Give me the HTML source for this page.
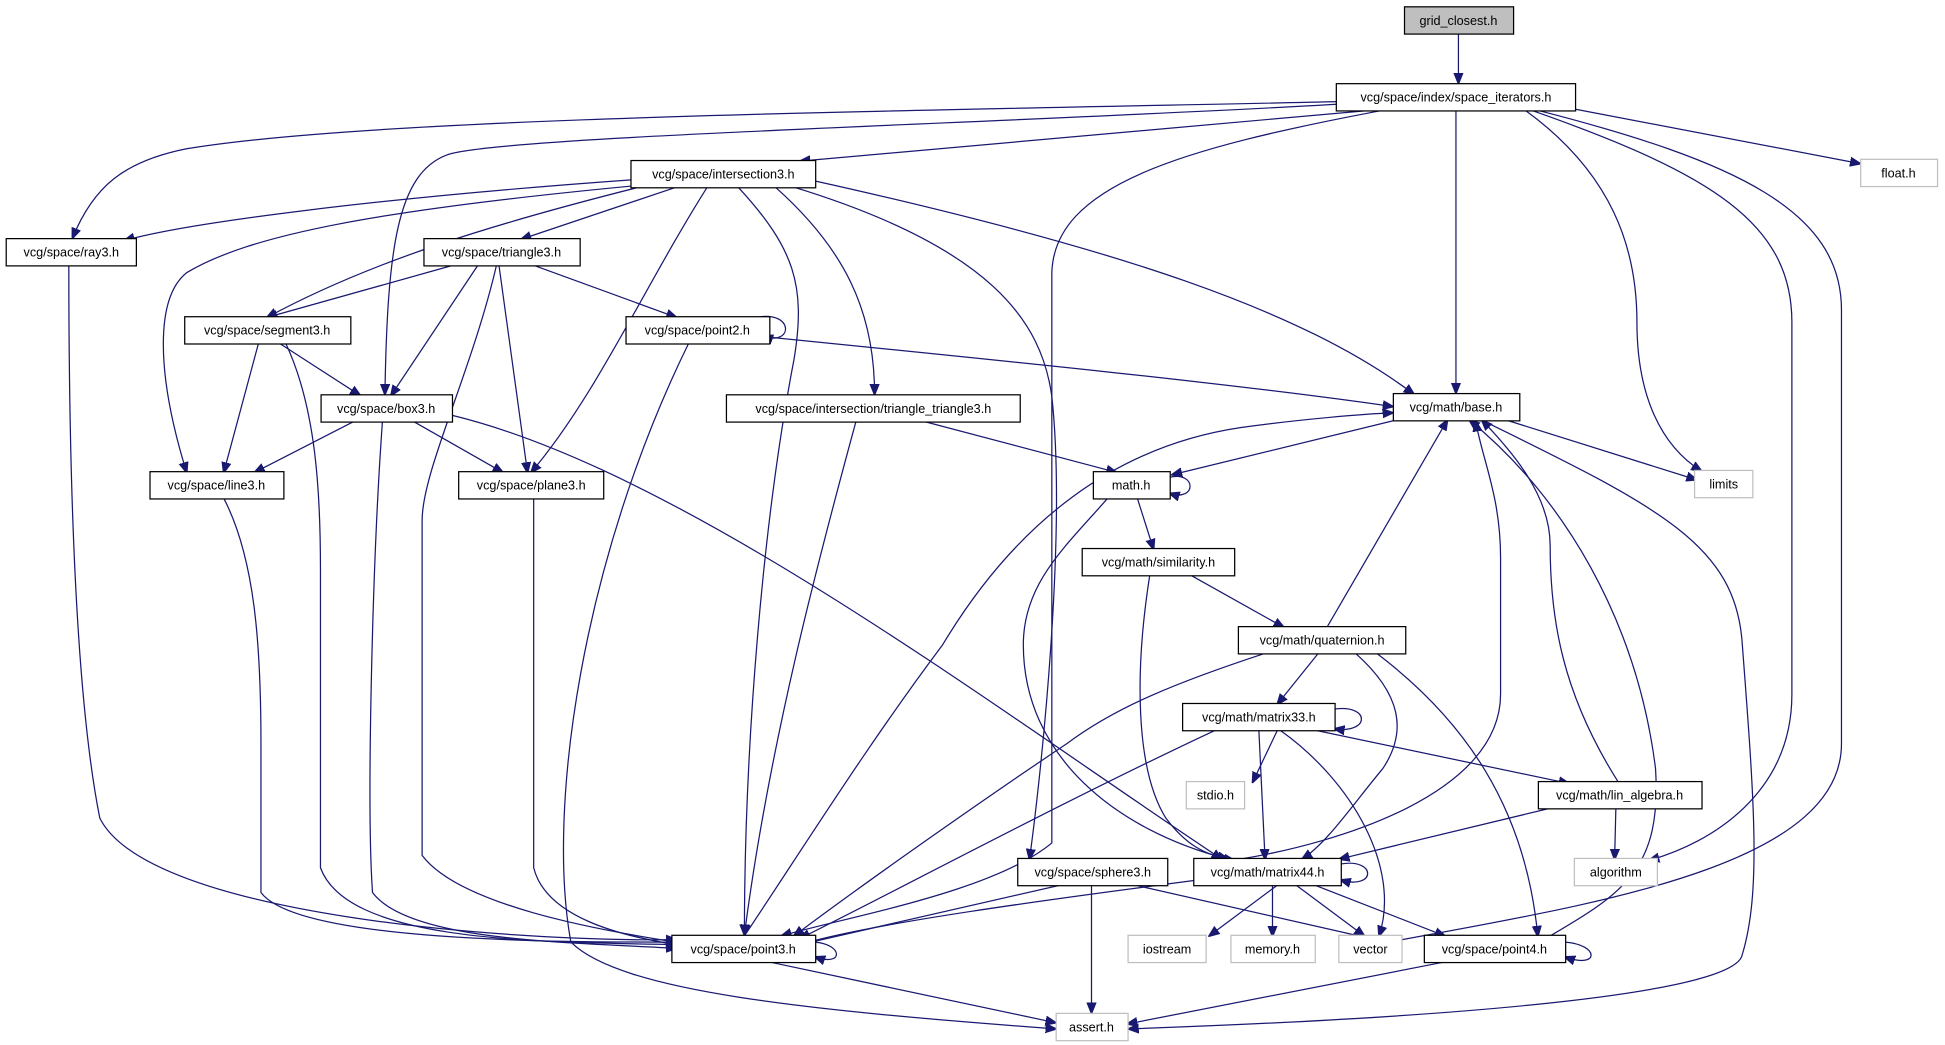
<!DOCTYPE html>
<html><head><meta charset="utf-8"><style>
html,body{margin:0;padding:0;background:#fff;width:1945px;height:1045px;overflow:hidden}
svg{display:block}
text{font-family:"Liberation Sans","DejaVu Sans",sans-serif;font-size:10.2px;fill:#000;text-anchor:middle}
.n rect{fill:#fff;stroke:#000;stroke-width:1}
.g rect{fill:#fff;stroke:#bfbfbf;stroke-width:1}
.e path{fill:none;stroke:#191970;stroke-width:1}
</style></head><body>
<svg width="1945" height="1045" viewBox="0 0 1568 843" xmlns="http://www.w3.org/2000/svg">
<defs><marker id="a" viewBox="0 0 10 10" refX="9" refY="5" markerWidth="9" markerHeight="9" markerUnits="userSpaceOnUse" orient="auto"><path d="M0,1 L10,5 L0,9 z" fill="#191970" stroke="#191970"/></marker></defs>
<g class="e" marker-end="url(#a)">
<path d="M1176,27 L1176,67" marker-end="url(#a)"/>
<path d="M1080,82 C700,90 300,95 150,120 C100,130 75,150 58,192" marker-end="url(#a)"/>
<path d="M1080,84 C800,100 400,110 360,125 C320,140 312,200 310,318" marker-end="url(#a)"/>
<path d="M1105,89 L645,130" marker-end="url(#a)"/>
<path d="M1115,89 C950,120 850,150 848,220 L848,680 C800,720 680,740 630,755" marker-end="url(#a)"/>
<path d="M1174,89 L1174,317" marker-end="url(#a)"/>
<path d="M1230,89 C1300,140 1320,200 1320,260 C1320,320 1340,360 1372,380" marker-end="url(#a)"/>
<path d="M1235,89 C1380,140 1445,180 1445,260 L1445,560 C1445,640 1380,680 1330,694" marker-end="url(#a)"/>
<path d="M1240,89 C1400,130 1485,170 1485,250 L1485,600 C1485,700 1280,730 1120,760" marker-end="url(#a)"/>
<path d="M1270,88 L1500,132" marker-end="url(#a)"/>
<path d="M510,145 C300,160 150,180 100,194" marker-end="url(#a)"/>
<path d="M545,151 L420,193" marker-end="url(#a)"/>
<path d="M515,151 C400,180 300,210 215,256" marker-end="url(#a)"/>
<path d="M510,150 C300,170 200,190 150,220 C125,240 125,300 150,381" marker-end="url(#a)"/>
<path d="M570,151 C520,230 480,320 428,381" marker-end="url(#a)"/>
<path d="M595,151 C640,200 650,230 640,290 C615,420 600,600 600,754" marker-end="url(#a)"/>
<path d="M625,151 C680,200 705,250 705,318" marker-end="url(#a)"/>
<path d="M640,151 C800,200 840,260 848,320 C860,430 840,620 830,693" marker-end="url(#a)"/>
<path d="M657,146 C900,200 1050,250 1140,318" marker-end="url(#a)"/>
<path d="M365,214 L215,256" marker-end="url(#a)"/>
<path d="M385,214 L315,319" marker-end="url(#a)"/>
<path d="M402,214 L425,381" marker-end="url(#a)"/>
<path d="M400,214 C380,300 340,380 340,420 L340,690 C370,730 480,750 545,760" marker-end="url(#a)"/>
<path d="M430,214 L545,256" marker-end="url(#a)"/>
<path d="M208,277 L180,381" marker-end="url(#a)"/>
<path d="M225,277 L290,319" marker-end="url(#a)"/>
<path d="M230,277 C255,330 258,400 258,460 L258,700 C280,760 430,760 545,762" marker-end="url(#a)"/>
<path d="M610,256 C640,250 640,280 615,271" marker-end="url(#a)"/>
<path d="M600,270 C800,290 1000,310 1123,328" marker-end="url(#a)"/>
<path d="M555,277 C470,450 440,650 460,760 C500,800 650,815 851,830" marker-end="url(#a)"/>
<path d="M285,340 L205,381" marker-end="url(#a)"/>
<path d="M333,340 L405,381" marker-end="url(#a)"/>
<path d="M308,340 C300,450 295,650 300,720 C330,760 460,760 545,765" marker-end="url(#a)"/>
<path d="M364,335 C550,380 800,570 985,693" marker-end="url(#a)"/>
<path d="M745,340 L900,381" marker-end="url(#a)"/>
<path d="M690,340 C660,450 620,600 600,754" marker-end="url(#a)"/>
<path d="M1125,339 L945,383" marker-end="url(#a)"/>
<path d="M1215,339 L1368,387" marker-end="url(#a)"/>
<path d="M1195,339 C1340,410 1400,440 1405,520 C1415,650 1420,720 1405,770 C1400,800 1200,820 910,830" marker-end="url(#a)"/>
<path d="M180,402 C205,450 210,520 210,600 L210,720 C240,760 450,760 545,760" marker-end="url(#a)"/>
<path d="M430,402 L430,700 C440,740 500,755 545,762" marker-end="url(#a)"/>
<path d="M55,214 C55,380 60,560 80,660 C120,740 420,760 545,758" marker-end="url(#a)"/>
<path d="M943,385 C965,380 965,405 943,398" marker-end="url(#a)"/>
<path d="M917,402 L930,443" marker-end="url(#a)"/>
<path d="M893,402 C860,440 825,470 825,520 C825,610 900,670 990,693" marker-end="url(#a)"/>
<path d="M960,464 L1035,506" marker-end="url(#a)"/>
<path d="M927,464 C915,540 915,620 940,660 C955,680 970,690 995,694" marker-end="url(#a)"/>
<path d="M1070,506 L1167,339" marker-end="url(#a)"/>
<path d="M1063,527 L1030,568" marker-end="url(#a)"/>
<path d="M1093,527 C1130,560 1135,590 1115,620 C1090,650 1070,680 1050,693" marker-end="url(#a)"/>
<path d="M1110,527 C1180,580 1230,650 1240,755" marker-end="url(#a)"/>
<path d="M1020,527 C950,550 900,570 860,600 C800,640 700,710 640,755" marker-end="url(#a)"/>
<path d="M1076,572 C1105,568 1105,592 1076,588" marker-end="url(#a)"/>
<path d="M1030,589 L1010,631" marker-end="url(#a)"/>
<path d="M1015,589 L1020,693" marker-end="url(#a)"/>
<path d="M1032,589 C1090,630 1130,700 1112,755" marker-end="url(#a)"/>
<path d="M1060,589 L1265,632" marker-end="url(#a)"/>
<path d="M980,589 C850,650 720,720 645,757" marker-end="url(#a)"/>
<path d="M1305,631 C1260,560 1250,500 1250,440 C1250,400 1220,365 1195,339" marker-end="url(#a)"/>
<path d="M1250,652 L1080,693" marker-end="url(#a)"/>
<path d="M1303,652 L1302,693" marker-end="url(#a)"/>
<path d="M855,714 L645,762" marker-end="url(#a)"/>
<path d="M915,714 L1100,756" marker-end="url(#a)"/>
<path d="M880,714 L880,817" marker-end="url(#a)"/>
<path d="M1081,697 C1110,692 1110,718 1081,710" marker-end="url(#a)"/>
<path d="M1000,693 C1080,680 1210,640 1210,560 L1210,450 C1210,400 1195,370 1190,340" marker-end="url(#a)"/>
<path d="M965,710 C850,725 700,745 645,762" marker-end="url(#a)"/>
<path d="M1030,714 L975,755" marker-end="url(#a)"/>
<path d="M1026,714 L1026,755" marker-end="url(#a)"/>
<path d="M1045,714 L1100,755" marker-end="url(#a)"/>
<path d="M1060,714 L1165,755" marker-end="url(#a)"/>
<path d="M657,760 C680,762 680,780 657,772" marker-end="url(#a)"/>
<path d="M600,755 C650,680 700,600 760,520 C820,420 900,360 1000,345 C1050,338 1100,334 1123,333" marker-end="url(#a)"/>
<path d="M620,776 L851,825" marker-end="url(#a)"/>
<path d="M1262,760 C1290,762 1290,782 1262,772" marker-end="url(#a)"/>
<path d="M1250,755 C1310,720 1340,700 1335,620 C1320,500 1260,400 1185,339" marker-end="url(#a)"/>
<path d="M1165,776 L909,826" marker-end="url(#a)"/>
</g>
<g class="n"><rect x="1132.5" y="5.5" width="88" height="22" style="fill:#bfbfbf"/><text x="1176" y="20">grid_closest.h</text></g>
<g class="n"><rect x="1077.5" y="67.5" width="193" height="22"/><text x="1174" y="82">vcg/space/index/space_iterators.h</text></g>
<g class="g"><rect x="1500.5" y="128.5" width="62" height="22"/><text x="1531" y="143">float.h</text></g>
<g class="n"><rect x="508.5" y="129.5" width="149" height="22"/><text x="583" y="144">vcg/space/intersection3.h</text></g>
<g class="n"><rect x="4.5" y="192.5" width="105" height="22"/><text x="57" y="207">vcg/space/ray3.h</text></g>
<g class="n"><rect x="341.5" y="192.5" width="126" height="22"/><text x="404" y="207">vcg/space/triangle3.h</text></g>
<g class="n"><rect x="148.5" y="255.5" width="134" height="22"/><text x="215" y="270">vcg/space/segment3.h</text></g>
<g class="n"><rect x="504.5" y="255.5" width="116" height="22"/><text x="562" y="270">vcg/space/point2.h</text></g>
<g class="n"><rect x="258.5" y="318.5" width="106" height="22"/><text x="311" y="333">vcg/space/box3.h</text></g>
<g class="n"><rect x="585.5" y="318.5" width="237" height="22"/><text x="704" y="333">vcg/space/intersection/triangle_triangle3.h</text></g>
<g class="n"><rect x="1123.5" y="317.5" width="102" height="22"/><text x="1174" y="332">vcg/math/base.h</text></g>
<g class="n"><rect x="120.5" y="380.5" width="108" height="22"/><text x="174" y="395">vcg/space/line3.h</text></g>
<g class="n"><rect x="369.5" y="380.5" width="117" height="22"/><text x="428" y="395">vcg/space/plane3.h</text></g>
<g class="n"><rect x="881.5" y="380.5" width="62" height="22"/><text x="912" y="395">math.h</text></g>
<g class="g"><rect x="1366.5" y="379.5" width="47" height="22"/><text x="1390" y="394">limits</text></g>
<g class="n"><rect x="872.5" y="442.5" width="123" height="22"/><text x="934" y="457">vcg/math/similarity.h</text></g>
<g class="n"><rect x="998.5" y="505.5" width="135" height="22"/><text x="1066" y="520">vcg/math/quaternion.h</text></g>
<g class="n"><rect x="953.5" y="567.5" width="123" height="22"/><text x="1015" y="582">vcg/math/matrix33.h</text></g>
<g class="g"><rect x="956.5" y="630.5" width="47" height="22"/><text x="980" y="645">stdio.h</text></g>
<g class="n"><rect x="1240.5" y="630.5" width="132" height="22"/><text x="1306" y="645">vcg/math/lin_algebra.h</text></g>
<g class="n"><rect x="820.5" y="692.5" width="121" height="22"/><text x="881" y="707">vcg/space/sphere3.h</text></g>
<g class="n"><rect x="962.5" y="692.5" width="119" height="22"/><text x="1022" y="707">vcg/math/matrix44.h</text></g>
<g class="g"><rect x="1269.5" y="692.5" width="67" height="22"/><text x="1303" y="707">algorithm</text></g>
<g class="n"><rect x="541.5" y="754.5" width="116" height="22"/><text x="599" y="769">vcg/space/point3.h</text></g>
<g class="g"><rect x="909.5" y="754.5" width="63" height="22"/><text x="941" y="769">iostream</text></g>
<g class="g"><rect x="992.5" y="754.5" width="68" height="22"/><text x="1026" y="769">memory.h</text></g>
<g class="g"><rect x="1079.5" y="754.5" width="51" height="22"/><text x="1105" y="769">vector</text></g>
<g class="n"><rect x="1148.5" y="754.5" width="114" height="22"/><text x="1205" y="769">vcg/space/point4.h</text></g>
<g class="g"><rect x="851.5" y="817.5" width="58" height="22"/><text x="880" y="832">assert.h</text></g>
</svg>
</body></html>
